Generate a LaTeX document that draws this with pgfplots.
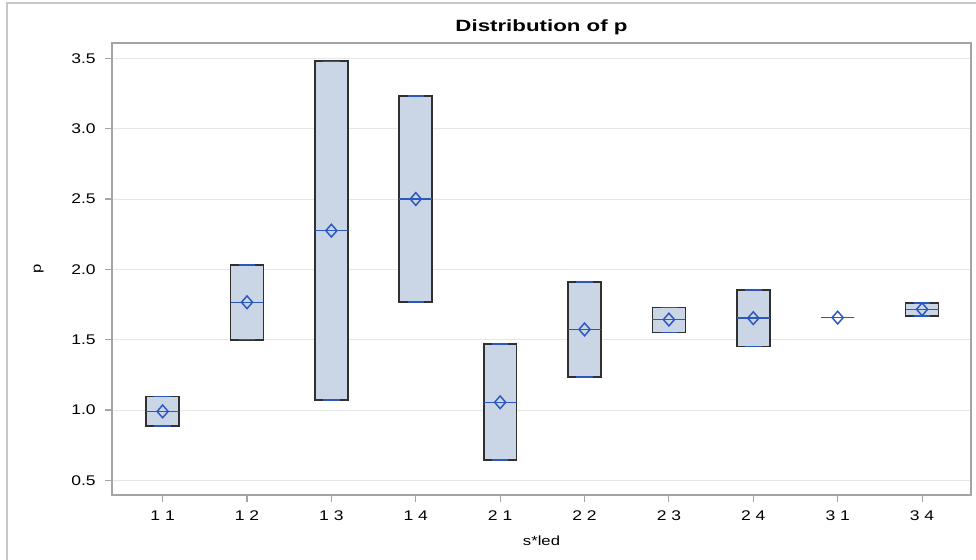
\documentclass[border=0pt]{standalone}
\usepackage{fontspec}
\setmainfont{Liberation Sans}[FakeStretch=1.25]
\newfontfamily\titlefont{Liberation Sans}[FakeStretch=1.37]
\usepackage{pgfplots}
\usepackage{pgfplotstable}
\pgfplotsset{compat=1.18}
\usepgfplotslibrary{statistics}
\definecolor{boxfill}{HTML}{CAD5E5}
\definecolor{sasblue}{RGB}{44,88,190}
\definecolor{boxedge}{HTML}{303030}
\definecolor{axisgray}{HTML}{A4A4A4}
\definecolor{gridgray}{HTML}{E6E6E6}
\definecolor{framegray}{HTML}{C8C8C8}

\pgfplotstableread{
pos lo    med   hi    mean
0   0.886 0.990 1.097 0.990
1   1.500 1.766 2.032 1.766
2   1.071 2.275 3.479 2.275
3   1.768 2.500 3.232 2.500
4   0.645 1.055 1.468 1.055
5   1.235 1.573 1.911 1.573
6   1.552 1.643 1.728 1.643
7   1.452 1.653 1.854 1.653
8   1.657 1.657 1.657 1.657
9   1.670 1.716 1.762 1.716
}\data

\begin{document}
\begin{tikzpicture}
\begin{axis}[
  name=ax, at={(0,0)}, anchor=south west,
  scale only axis, width=644.25pt, height=339pt,
  xmin=-0.6, xmax=9.58, ymin=0.396, ymax=3.609,
  xtick={0,...,9},
  xticklabels={1 1,1 2,1 3,1 4,2 1,2 2,2 3,2 4,3 1,3 4},
  ytick={0.5,1,1.5,2,2.5,3,3.5},
  yticklabel style={/pgf/number format/fixed, /pgf/number format/fixed zerofill, /pgf/number format/precision=1, xshift=-3.75pt},
  xticklabel style={yshift=-3pt},
  /pgf/number format/assume math mode=true,
  ticklabel style={font=\fontsize{10.5}{12}\selectfont, text=black},
  xtick pos=left, ytick pos=left,
  tick align=outside, major tick length=5pt,
  tick style={draw=axisgray, line width=0.8pt},
  axis line style={draw=axisgray, line width=1pt},
  ymajorgrids, grid style={draw=gridgray, line width=0.75pt},
  title={\titlefont\bfseries Distribution of p},
  every axis title/.style={at={(axis description cs:0.5,1)}, anchor=base, yshift=8.5pt, font=\fontsize{12.2}{14}\selectfont},
  xlabel={s*led}, ylabel={p},
  label style={font=\fontsize{11.5}{13}\selectfont},
  every axis x label/.style={at={(axis description cs:0.5,0)}, anchor=base, yshift=-38.25pt},
  every axis y label/.style={at={(axis description cs:0,0.5)}, rotate=90, anchor=base, yshift=53.25pt},
  boxplot/draw direction=y,
  boxplot/draw/lower whisker/.code={},
  boxplot/draw/upper whisker/.code={},
  boxplot/draw/box/.code={%
    \draw[/pgfplots/boxplot/every box/.try]
      (boxplot box cs:\pgfplotsboxplotvalue{lower quartile},0) rectangle
      (boxplot box cs:\pgfplotsboxplotvalue{upper quartile},1);
    \draw[sasblue, line width=1.1pt]
      (boxplot box cs:\pgfplotsboxplotvalue{lower quartile},0.25) --
      (boxplot box cs:\pgfplotsboxplotvalue{lower quartile},0.75);
    \draw[sasblue, line width=1.1pt]
      (boxplot box cs:\pgfplotsboxplotvalue{upper quartile},0.25) --
      (boxplot box cs:\pgfplotsboxplotvalue{upper quartile},0.75);
  },
  boxplot/every median/.style={draw=sasblue, line width=1.1pt},
]
\pgfplotsinvokeforeach{0,...,9}{
  \pgfplotstablegetelem{#1}{lo}\of\data \let\vlo\pgfplotsretval
  \pgfplotstablegetelem{#1}{med}\of\data \let\vmed\pgfplotsretval
  \pgfplotstablegetelem{#1}{hi}\of\data \let\vhi\pgfplotsretval
  \edef\doplot{\noexpand\addplot[draw=boxedge, fill=boxfill, line width=1.3pt,
    boxplot prepared={draw position=#1,
      lower whisker=\vlo, upper whisker=\vhi,
      lower quartile=\vlo, upper quartile=\vhi, median=\vmed},
    boxplot/box extend=0.39] coordinates {};}
  \doplot
}
\addplot[only marks, mark=diamond, mark size=4.75pt,
  mark options={xscale=1.17, draw=sasblue, fill=none, line width=1.1pt}]
  table[x=pos, y=mean] {\data};
\end{axis}
\draw[framegray, line width=1.1pt] (-78.75pt,-70pt) -- (-78.75pt,369pt) -- (700pt,369pt);
\pgfresetboundingbox
\useasboundingbox (-84pt,-48.75pt) rectangle (648pt,371.25pt);
\end{tikzpicture}
\end{document}
